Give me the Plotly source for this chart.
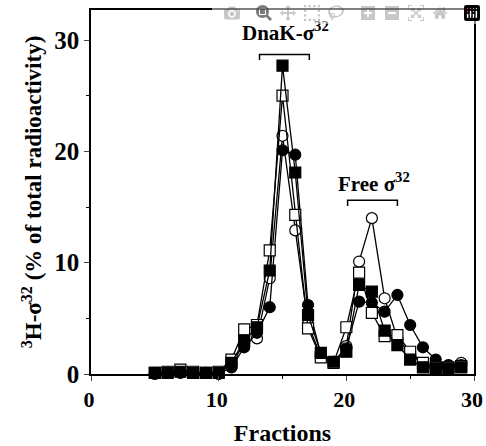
import plotly.graph_objects as go

fractions = [5, 6, 7, 8, 9, 10, 11, 12, 13, 14, 15, 16, 17, 18, 19, 20, 21, 22, 23, 24, 25, 26, 27, 28, 29]

filled_square = [0.1, 0.1, 0.2, 0.1, 0.1, 0.1, 1.0, 3.0, 4.2, 9.3, 27.7, 18.1, 5.3, 1.9, 1.1, 2.0, 8.0, 7.4, 3.9, 2.6, 1.3, 0.6, 0.5, 0.5, 0.6]
open_square = [0.1, 0.2, 0.4, 0.2, 0.1, 0.2, 1.3, 4.0, 4.4, 11.1, 25.0, 14.3, 4.1, 1.5, 1.0, 4.2, 9.1, 5.5, 3.4, 3.5, 2.0, 1.0, 0.6, 0.6, 0.7]
filled_circle = [0.0, 0.1, 0.1, 0.1, 0.1, 0.0, 0.6, 2.4, 3.7, 6.0, 20.1, 19.7, 6.2, 1.8, 1.1, 2.3, 6.5, 6.4, 5.6, 7.1, 4.4, 2.4, 1.3, 0.8, 0.8]
open_circle = [0.1, 0.1, 0.2, 0.1, 0.1, 0.1, 0.8, 2.8, 3.2, 8.6, 21.4, 12.9, 4.5, 1.6, 1.0, 2.5, 10.1, 14.0, 6.8, 3.2, 1.8, 0.9, 0.6, 0.7, 1.0]

x_ticks = [0, 10, 20, 30]
y_ticks = [0, 10, 20, 30]

labels = ["DnaK-σ<sup>32</sup>", "Free σ<sup>32</sup>"]
label_x = [15.2, 22.2]
label_y = [30.8, 17.2]
bracket_x0 = [13.2, 20.1]
bracket_x1 = [17.1, 24.0]
bracket_y = [28.7, 15.6]
bracket_drop = 0.5

FONT = "Liberation Serif"

fig = go.Figure()

series = [
    ("open circles", open_circle, "circle", "white"),
    ("filled circles", filled_circle, "circle", "black"),
    ("open squares", open_square, "square", "white"),
    ("filled squares", filled_square, "square", "black"),
]
for name, vals, sym, fill in series:
    fig.add_trace(go.Scatter(
        x=fractions, y=vals, mode="lines+markers", name=name,
        line=dict(color="black", width=1.3),
        marker=dict(size=11, symbol=sym, color=fill, line=dict(color="black", width=1.2)),
        cliponaxis=False, showlegend=False,
    ))

for i in range(len(labels)):
    fig.add_annotation(x=label_x[i], y=label_y[i], text=labels[i], showarrow=False,
                       xref="x", yref="y",
                       font=dict(family=FONT, size=21, color="black", weight="bold"))
    fig.add_shape(type="path", xref="x", yref="y",
                  path=f"M {bracket_x0[i]} {bracket_y[i]-bracket_drop} L {bracket_x0[i]} {bracket_y[i]} "
                       f"L {bracket_x1[i]} {bracket_y[i]} L {bracket_x1[i]} {bracket_y[i]-bracket_drop}",
                  line=dict(color="black", width=1.5))

fig.update_layout(
    width=486, height=446,
    margin=dict(l=91, r=12, t=10, b=72),
    paper_bgcolor="white", plot_bgcolor="white",
    font=dict(family=FONT, color="black"),
)
fig.update_xaxes(
    range=[0, 30], tickvals=x_ticks, ticks="outside", ticklen=5, tickwidth=1,
    showline=True, linecolor="black", linewidth=1.5, mirror=True,
    showgrid=False, zeroline=False, automargin=False, ticklabeloverflow="allow",
    ticklabelshift=-2,
    minor=dict(dtick=5, tick0=0, ticks="outside", ticklen=3, tickcolor="black"),
    tickfont=dict(family=FONT, size=22, weight="bold"),
    title=dict(text="Fractions", font=dict(family=FONT, size=24, weight="bold"), standoff=24),
)
fig.update_yaxes(
    range=[0, 32.7], tickvals=y_ticks, ticks="outside", ticklen=5, tickwidth=1,
    showline=True, linecolor="black", linewidth=1.5, mirror=True,
    showgrid=False, zeroline=False, automargin=False, ticklabeloverflow="allow",
    minor=dict(dtick=5, tick0=0, ticks="outside", ticklen=3, tickcolor="black"),
    tickfont=dict(family=FONT, size=25, weight="bold"),
    title=dict(text="<sup>3</sup>H-σ<sup>32</sup> (% of total radioactivity)",
               font=dict(family=FONT, size=23, weight="bold"), standoff=6),
)

# remove the browser's default 8px body margin so the figure fills the window exactly
fig.write_html("out.html",
               post_script="document.body.style.margin='0';document.body.style.overflow='hidden';")
